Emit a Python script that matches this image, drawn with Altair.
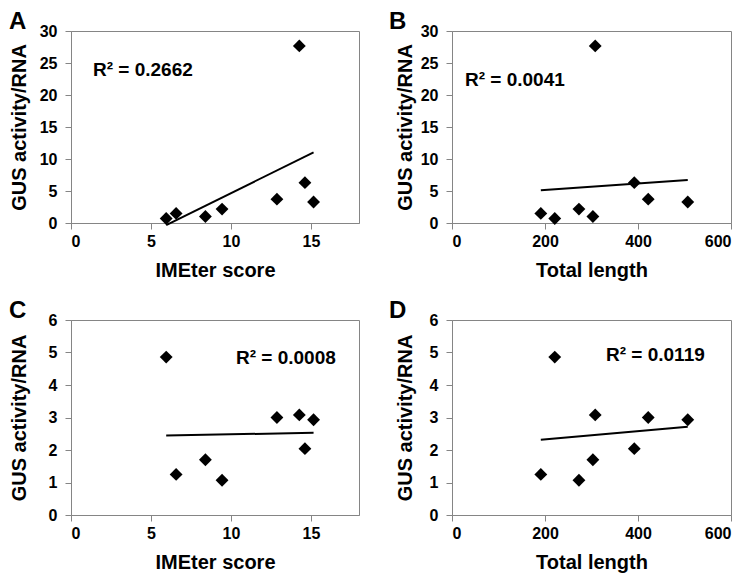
import altair as alt
import pandas as pd

ime_score = [5.95, 6.57, 8.40, 9.44, 12.87, 14.27, 14.62, 15.16]
total_length = [221, 191, 303, 273, 422, 308, 392, 507]
gus_top = [0.70, 1.50, 1.02, 2.17, 3.72, 27.67, 6.30, 3.28]
gus_bottom = [4.86, 1.25, 1.70, 1.07, 3.00, 3.08, 2.04, 2.93]

letters = ["A", "B", "C", "D"]
r2_labels = ["R² = 0.2662", "R² = 0.0041", "R² = 0.0008", "R² = 0.0119"]
x_titles = ["IMEter score", "Total length", "IMEter score", "Total length"]
y_title = "GUS activity/RNA"

FONT = "Liberation Sans"
GRAY = "#858585"


def panel(xs, ys, xdom, xticks, ydom, yticks, xtitle, r2, letter,
          tx, ty, w, h, title_x, letter_x, ylab_pad):
    df = pd.DataFrame({"x": xs, "y": ys})
    xenc = alt.X("x:Q", scale=alt.Scale(domain=xdom, nice=False, zero=False),
                 axis=alt.Axis(values=xticks, title=xtitle, titlePadding=11,
                               labelPadding=4, labelOverlap=False))
    yenc = alt.Y("y:Q", scale=alt.Scale(domain=ydom, nice=False, zero=False),
                 axis=alt.Axis(values=yticks, title=y_title, titleX=title_x,
                               labelPadding=ylab_pad, labelOverlap=False))
    base = alt.Chart(df).encode(x=xenc, y=yenc)
    pts = base.mark_point(shape="diamond", filled=True, color="black",
                          opacity=1, size=165)
    line = base.transform_regression("x", "y").mark_line(
        color="black", strokeWidth=2)
    ann = alt.Chart(pd.DataFrame({"r2": [r2], "letter": [letter]}))
    txt = ann.mark_text(align="left", baseline="alphabetic", fontSize=19,
                        fontWeight="bold", font=FONT, color="black").encode(
        x=alt.value(tx), y=alt.value(ty), text="r2:N")
    let = ann.mark_text(align="left", baseline="alphabetic", fontSize=24,
                        fontWeight="bold", font=FONT, color="black").encode(
        x=alt.value(letter_x), y=alt.value(-2), text="letter:N")
    return alt.layer(line, pts, txt, let).properties(width=w, height=h)


pA = panel(ime_score, gus_top, [0, 18], [0, 5, 10, 15], [0, 30],
           [0, 5, 10, 15, 20, 25, 30], x_titles[0], r2_labels[0], letters[0],
           22, 45, 288, 192, -42, -62, 8)
pB = panel(total_length, gus_top, [0, 600], [0, 200, 400, 600], [0, 30],
           [0, 5, 10, 15, 20, 25, 30], x_titles[1], r2_labels[1], letters[1],
           13, 55, 279, 192, -37, -63, 8)
pC = panel(ime_score, gus_bottom, [0, 18], [0, 5, 10, 15], [0, 6],
           [0, 1, 2, 3, 4, 5, 6], x_titles[2], r2_labels[2], letters[2],
           165, 44, 288, 195, -42, -62, 8)
pD = panel(total_length, gus_bottom, [0, 600], [0, 200, 400, 600], [0, 6],
           [0, 1, 2, 3, 4, 5, 6], x_titles[3], r2_labels[3], letters[3],
           154, 41, 279, 195, -37, -63, 8)

chart = alt.concat(pA, pB, pC, pD, columns=2,
                   spacing={"row": 17, "column": 28}).properties(
    padding={"top": 1, "left": 0, "right": 0, "bottom": 0},
    background="white"
).configure_view(stroke=GRAY, strokeWidth=1).configure_axis(
    grid=False, domainColor=GRAY, tickColor=GRAY, tickSize=6,
    labelFont=FONT, labelFontSize=16, labelFontWeight="bold",
    labelColor="black", titleFont=FONT, titleFontSize=20,
    titleFontWeight="bold", titleColor="black"
)

chart.save("out.html", embed_options={"renderer": "svg", "actions": False})
